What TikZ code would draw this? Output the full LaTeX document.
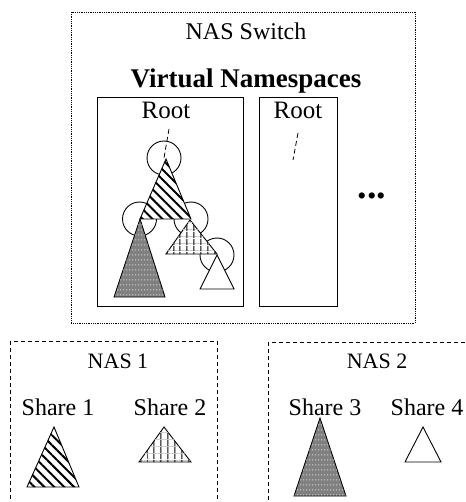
\documentclass[tikz,border=0pt]{standalone}
\usepackage{fontspec}
\setmainfont{Liberation Serif}
\usetikzlibrary{patterns,patterns.meta}
\tikzdeclarepattern{
  name=dotrows,
  type=uncolored,
  bounding box={(0pt,0pt) and (3pt,5pt)},
  tile size={(3pt,5pt)},
  code={\fill (0.5pt,2pt) rectangle (1.6pt,3pt);}
}
\tikzset{
  swbox/.style={draw, line width=0.8pt, densely dotted},
  nsbox/.style={draw, line width=1pt},
  nasbox/.style={draw, line width=1pt, dash pattern=on 4pt off 3pt},
  tri/.style={draw, line width=0.9pt, fill=white},
  hatchA/.style={postaction={pattern={Lines[angle=-45,distance=7pt,line width=2pt]}}},
  hatchB/.style={postaction={pattern={Lines[angle=0,distance=7pt,line width=0.6pt]}, pattern color=black!20},
                 postaction={pattern={Lines[angle=90,distance=6.5pt,line width=1pt]}}},
  hatchC/.style={fill=black!50, postaction={pattern=dotrows, pattern color=white}},
  ring/.style={circle, draw, line width=0.9pt, minimum size=34pt, inner sep=0pt},
  lbl/.style={anchor=base, inner sep=0pt, font=\fontsize{24}{27}\selectfont},
  nlbl/.style={anchor=base, inner sep=0pt, font=\fontsize{22}{25}\selectfont},
  link/.style={line width=0.8pt, dash pattern=on 5pt off 3pt},
}
\begin{document}
\begin{tikzpicture}[x=1pt,y=-1pt]
\useasboundingbox (0,0) rectangle (465,502);
\clip (0,0) rectangle (465,502);
% NAS switch
\draw[swbox] (71,12) rectangle (415,323);
\node[lbl] (sw) at (246,40) {NAS Switch};
\node[anchor=base, inner sep=0pt, font=\fontsize{27}{31}\selectfont\bfseries] (vn) at (246,88) {Virtual Namespaces};
\draw[nsbox] (97,98) rectangle (243,306);
\draw[nsbox] (259,98) rectangle (337,306);
\node[lbl, font=\fontsize{25}{28}\selectfont] (root1) at (166,119) {Root};
\node[lbl, font=\fontsize{25}{28}\selectfont] (root2) at (298,119) {Root};
\node[anchor=base, inner sep=0pt, font=\fontsize{38}{42}\selectfont\bfseries] (dots) at (372,199) {...};
% tree
\node[ring] (c1) at (164,158) {};
\node[ring] (c2) at (139.5,219) {};
\node[ring] (c3) at (191,219) {};
\node[ring] (c4) at (217,255) {};
\draw[tri, hatchA] (166,159) -- (191,219) -- (140,219) -- cycle;
\draw[tri, hatchC] (140,219) -- (165,297) -- (114,297) -- cycle;
\draw[tri, hatchB] (190,220) -- (217,254) -- (166,254) -- cycle;
\draw[tri] (217,255) -- (234,289) -- (200,289) -- cycle;
\coordinate (top1) at (169,129);
\coordinate (top2) at (298,133);
\coordinate (end2) at (293,160);
\draw[link] (top1) -- (c1.center);
\draw[link] (top2) -- (end2);
% NAS 1
\draw[nasbox] (10,341) rectangle (217,530);
\node[nlbl] (nas1) at (118,368) {NAS 1};
\node[lbl] (s1) at (58,415) {Share 1};
\node[lbl] (s2) at (170,415) {Share 2};
\draw[tri, hatchA] (54,427) -- (79,487) -- (27,487) -- cycle;
\draw[tri, hatchB] (164,427) -- (191,462) -- (139,462) -- cycle;
% NAS 2
\draw[nasbox] (268,342) rectangle (490,530);
\node[nlbl] (nas2) at (377,368) {NAS 2};
\node[lbl] (s3) at (325,415) {Share 3};
\node[lbl] (s4) at (427,415) {Share 4};
\draw[tri, hatchC] (320,418) -- (346,496) -- (294,496) -- cycle;
\draw[tri] (423,427) -- (441,462) -- (405,462) -- cycle;
\end{tikzpicture}
\end{document}
